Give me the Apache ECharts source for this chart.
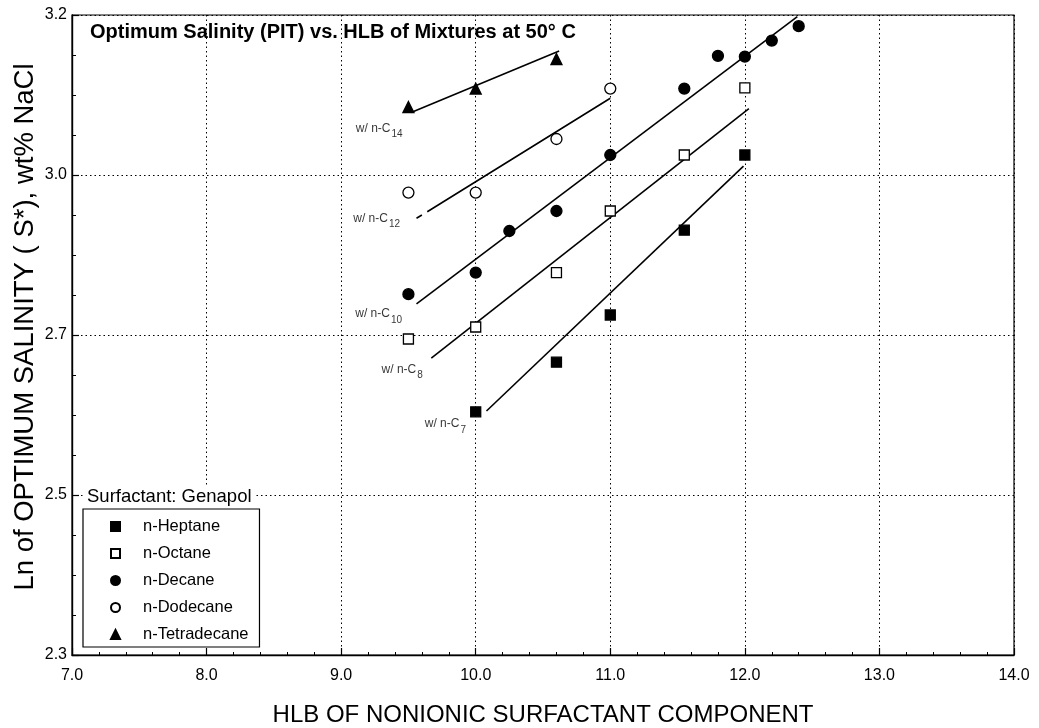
<!DOCTYPE html>
<html>
<head>
<meta charset="utf-8">
<script src="https://cdn.jsdelivr.net/npm/echarts@6/dist/echarts.min.js"></script>
<style>
html,body{margin:0;padding:0;background:#fff;}
#chart{width:1039px;height:728px;}
</style>
</head>
<body>
<div id="chart"></div>
<script>
// ---- data ----
const hlbHeptane = [10.0, 10.6, 11.0, 11.55, 12.0];
const salHeptane = [2.704, 2.766, 2.825, 2.931, 3.025];
const hlbOctane = [9.5, 10.0, 10.6, 11.0, 11.55, 12.0];
const salOctane = [2.795, 2.810, 2.878, 2.955, 3.025, 3.109];
const hlbDecane = [9.5, 10.0, 10.25, 10.6, 11.0, 11.55, 11.8, 12.0, 12.2, 12.4];
const salDecane = [2.851, 2.878, 2.930, 2.955, 3.025, 3.108, 3.149, 3.148, 3.168, 3.186];
const hlbDodecane = [9.5, 10.0, 10.6, 11.0];
const salDodecane = [2.978, 2.978, 3.045, 3.108];
const hlbTetradecane = [9.5, 10.0, 10.6];
const salTetradecane = [3.085, 3.108, 3.145];

// fitted lines (end points)
const fitC7x = [10.08, 11.99];   const fitC7y = [2.705, 3.011];
const fitC8x = [9.67, 12.03];    const fitC8y = [2.771, 3.083];
const fitC10x = [9.56, 12.39];   const fitC10y = [2.839, 3.198];
const fitC12x = [9.56, 9.60, 9.64, 11.0]; const fitC12y = [2.946, 2.950, 2.954, 3.096];
const fitC14x = [9.52, 10.62];   const fitC14y = [3.078, 3.155];

const lineLabelNames = ['7', '8', '10', '12', '14'];

const xTickValues = [7, 8, 9, 10, 11, 12, 13, 14];
const xTickLabels = ['7.0', '8.0', '9.0', '10.0', '11.0', '12.0', '13.0', '14.0'];
const yTickValues = [2.4, 2.6, 2.8, 3.0, 3.2];
const yTickLabels = ['2.3', '2.5', '2.7', '3.0', '3.2'];

const seriesNames = ['n-Heptane', 'n-Octane', 'n-Decane', 'n-Dodecane', 'n-Tetradecane'];

// ---- build ----
const FONT = '"Liberation Sans", Arial, Helvetica, sans-serif';
function pairs(xs, ys) { return xs.map((x, i) => [x, ys[i]]); }
function lookup(vals, labels, v) {
  for (let i = 0; i < vals.length; i++) if (Math.abs(vals[i] - v) < 1e-6) return labels[i];
  return '';
}

const scatterDefs = [
  { name: seriesNames[0], data: pairs(hlbHeptane, salHeptane), symbol: 'rect', size: 10, fill: '#000' },
  { name: seriesNames[1], data: pairs(hlbOctane, salOctane), symbol: 'rect', size: 10, fill: '#fff' },
  { name: seriesNames[2], data: pairs(hlbDecane, salDecane), symbol: 'circle', size: 11, fill: '#000' },
  { name: seriesNames[3], data: pairs(hlbDodecane, salDodecane), symbol: 'circle', size: 11, fill: '#fff' },
  { name: seriesNames[4], data: pairs(hlbTetradecane, salTetradecane), symbol: 'triangle', size: 11, fill: '#000' }
];

const series = scatterDefs.map(d => ({
  name: d.name, type: 'scatter', data: d.data, symbol: d.symbol, symbolSize: d.size,
  itemStyle: { color: d.fill, borderColor: '#000', borderWidth: 1.3, opacity: 1 },
  z: 5
}));

function fitLine(xs, ys, gapAfter) {
  const data = [];
  xs.forEach((x, i) => {
    data.push([x, ys[i]]);
    if (gapAfter !== undefined && i === gapAfter) data.push(['-', '-']);
  });
  return {
    type: 'line', data: data, symbol: 'none', silent: true, connectNulls: false,
    lineStyle: { color: '#000', width: 1.6 }, z: 4
  };
}
series.push(fitLine(fitC7x, fitC7y));
series.push(fitLine(fitC8x, fitC8y));
series.push(fitLine(fitC10x, fitC10y));
series.push(fitLine(fitC12x, fitC12y, 1));
series.push(fitLine(fitC14x, fitC14y));

// line labels anchored at line start points; offsets are styling
const labelAnchors = [
  [fitC7x[0], fitC7y[0]], [fitC8x[0], fitC8y[0]], [fitC10x[0], fitC10y[0]],
  [fitC12x[0], fitC12y[0]], [fitC14x[0], fitC14y[0]]
];
const labelOffsets = [[-20, 14], [-8, 12], [-14, 11], [-16, 1], [-8, 17]];
series.push({
  type: 'scatter', silent: true, symbol: 'circle', symbolSize: 1,
  itemStyle: { color: 'rgba(0,0,0,0)' },
  data: labelAnchors.map((p, i) => ({
    value: p,
    label: {
      show: true, position: 'left', offset: labelOffsets[i], distance: 0,
      formatter: '{m|w/ n-C}{s|' + lineLabelNames[i] + '}'
    }
  })),
  label: {
    align: 'right', verticalAlign: 'middle',
    rich: {
      m: { fontFamily: FONT, fontSize: 12, color: '#000', lineHeight: 14, verticalAlign: 'top' },
      s: { fontFamily: FONT, fontSize: 10, color: '#000', lineHeight: 10, padding: [7, 0, 0, 1], verticalAlign: 'top' }
    }
  },
  z: 6
});

const option = {
  animation: false,
  backgroundColor: '#fff',
  grid: { left: 72, right: 25, top: 15, bottom: 73, outerBoundsMode: 'none', containLabel: false,
    show: true, borderColor: '#000', borderWidth: 1.2, backgroundColor: 'transparent' },
  xAxis: {
    type: 'value', min: 7, max: 14, interval: 1,
    name: 'HLB OF NONIONIC SURFACTANT COMPONENT', nameLocation: 'middle', nameGap: 48,
    nameTextStyle: { fontFamily: FONT, fontSize: 24, color: '#000' },
    axisLine: { show: true, lineStyle: { color: '#000', width: 1.4 } },
    axisTick: { show: true, inside: true, length: 7, lineStyle: { color: '#000', width: 1.2 } },
    minorTick: { show: true, splitNumber: 5, length: 3, lineStyle: { color: '#000', width: 1 } },
    splitLine: { show: true, lineStyle: { color: '#000', width: 1, type: [1.5, 3] } },
    axisLabel: { fontFamily: FONT, fontSize: 16, color: '#000', margin: 13,
      formatter: v => lookup(xTickValues, xTickLabels, v) }
  },
  yAxis: {
    type: 'value', min: 2.4, max: 3.2, interval: 0.2,
    name: 'Ln of OPTIMUM SALINITY ( S*), wt% NaCl', nameLocation: 'middle', nameGap: 33,
    nameMoveOverlap: false,
    nameTextStyle: { fontFamily: FONT, fontSize: 27.5, color: '#000', padding: [0, 0, 0, 16] },
    axisLine: { show: true, lineStyle: { color: '#000', width: 1.4 } },
    axisTick: { show: true, inside: true, length: 7, lineStyle: { color: '#000', width: 1.2 } },
    minorTick: { show: true, splitNumber: 4, length: 4, lineStyle: { color: '#000', width: 1 } },
    splitLine: { show: true, lineStyle: { color: '#000', width: 1, type: [1.5, 3] } },
    axisLabel: { fontFamily: FONT, fontSize: 16, color: '#000', margin: 5,
      formatter: v => lookup(yTickValues, yTickLabels, v) }
  },
  legend: {
    data: seriesNames, orient: 'vertical', left: 83, top: 509,
    itemWidth: 9, itemHeight: 9, itemGap: 10,
    padding: [9, 11, 4, 27],
    backgroundColor: '#fff', borderColor: '#000', borderWidth: 1.2, borderRadius: 0,
    textStyle: { fontFamily: FONT, fontSize: 16.5, color: '#000', padding: [0, 0, 0, 18] },
    selectedMode: false
  },
  graphic: [
    { type: 'text', left: 90, top: 22, z: 100,
      style: { text: 'Optimum Salinity (PIT) vs. HLB of Mixtures at 50° C', font: 'bold 20px ' + FONT, fill: '#000' } },
    { type: 'text', left: 84, top: 486, z: 100,
      style: { text: 'Surfactant: Genapol', font: '18.5px ' + FONT, fill: '#000', backgroundColor: '#fff', padding: [1, 4, 1, 3] } }
  ],
  series: series
};

const chart = echarts.init(document.getElementById('chart'), null, { renderer: 'canvas' });
chart.setOption(option);
</script>
</body>
</html>
